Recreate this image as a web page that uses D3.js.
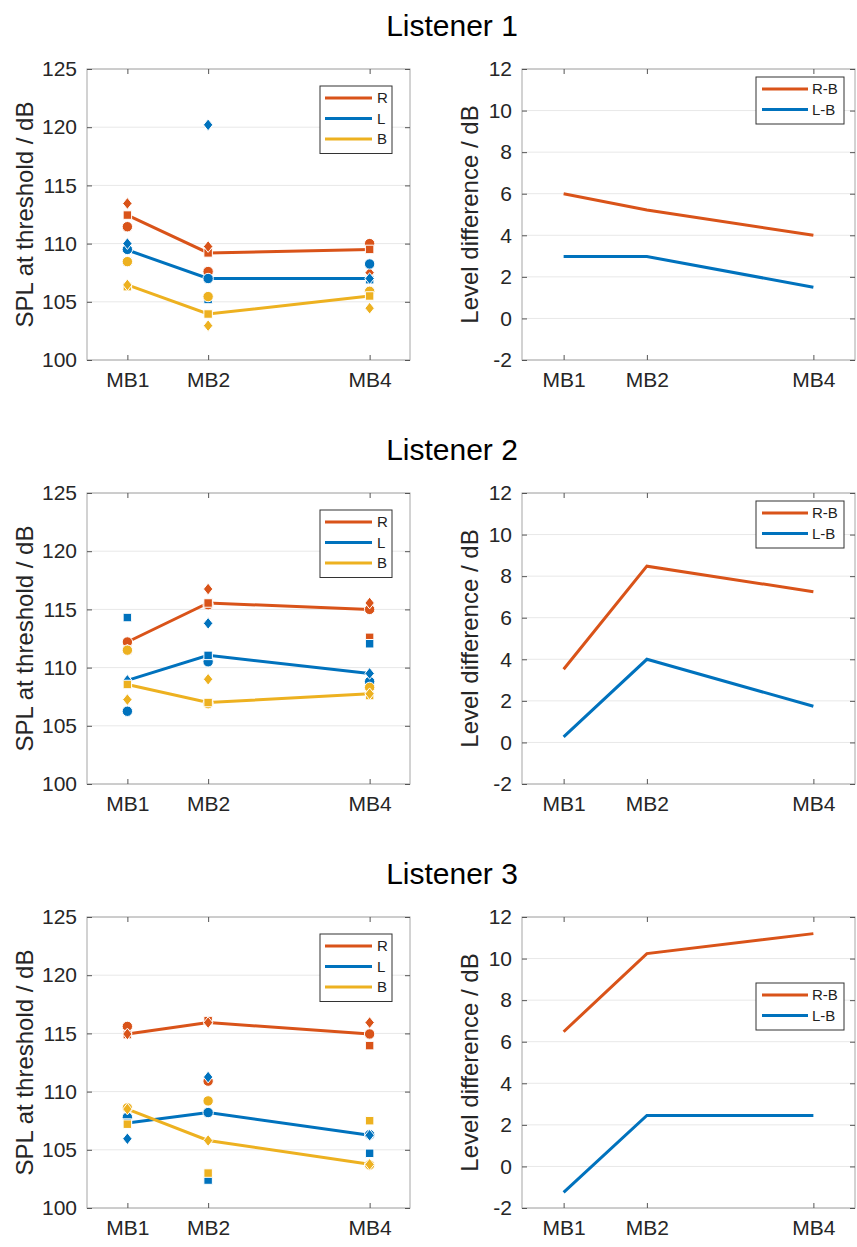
<!DOCTYPE html>
<html>
<head>
<meta charset="utf-8">
<script src="https://cdn.jsdelivr.net/npm/d3@7"></script>
<style>
  body { margin: 0; background: #fff; }
  text { font-family: "Liberation Sans", Arial, sans-serif; }
</style>
</head>
<body>
<div id="chart"></div>
<script>
// ---- data ----
const bands = ["MB1", "MB2", "MB4"];
const bandPos = [1, 2, 4];
const listeners = ["Listener 1", "Listener 2", "Listener 3"];

// medians drawn as lines (left panels), one row per listener
const rLine = [[112.45, 109.2, 109.5], [112.2, 115.55, 115.0], [114.95, 115.93, 114.95]];
const lLine = [[109.45, 107.0, 107.0], [108.9, 111.05, 109.5], [107.3, 108.2, 106.25]];
const bLine = [[106.45, 103.95, 105.5], [108.55, 107.0, 107.75], [108.5, 105.8, 103.75]];

// single runs (markers)
const rCircle  = [[111.45, 107.6, 110.0], [112.2, 115.4, 115.0], [115.6, 110.9, 114.95]];
const rSquare  = [[112.45, 109.2, 109.5], [111.5, 115.55, 112.6], [114.9, 116.1, 113.95]];
const rDiamond = [[113.45, 109.75, 107.5], [111.5, 116.75, 115.55], [114.95, 115.93, 115.93]];
const lCircle  = [[109.5, 107.0, 108.25], [106.25, 110.5, 108.8], [107.8, 108.2, 106.3]];
const lSquare  = [[108.45, 105.2, 106.9], [114.3, 111.05, 112.05], [107.3, 102.4, 104.7]];
const lDiamond = [[110.0, 120.2, 107.0], [108.9, 113.8, 109.5], [105.95, 111.25, 106.25]];
const bCircle  = [[108.45, 105.45, 105.9], [111.5, 106.9, 108.3], [108.6, 109.2, 103.7]];
const bSquare  = [[106.3, 103.95, 105.5], [108.55, 107.0, 107.6], [107.2, 103.0, 107.5]];
const bDiamond = [[106.45, 102.95, 104.45], [107.25, 109.0, 107.75], [108.5, 105.8, 103.75]];

// level differences (right panels)
const rbDiff = [[6.0, 5.22, 4.0], [3.52, 8.48, 7.25], [6.48, 10.24, 11.2]];
const lbDiff = [[2.98, 2.98, 1.5], [0.27, 4.0, 1.74], [-1.25, 2.45, 2.45]];

const splTicks = [100, 105, 110, 115, 120, 125];
const diffTicks = [-2, 0, 2, 4, 6, 8, 10, 12];

// ---- layout ----
const W = 857, H = 1247;
const rowTop = [69, 493, 917];
const plotH = 291;
const leftX = [87, 410];
const rightX = [522, 855];
const col = { R: "#D95319", L: "#0072BD", B: "#EDB120" };

const svg = d3.select("#chart").append("svg").attr("width", W).attr("height", H);

const x = d3.scaleLinear().domain([0.5, 4.5]);

// matlab style diamond
const diamond = {
  draw(ctx, size) {
    const h = Math.sqrt(size) * 0.68, w = h * 0.8;
    ctx.moveTo(0, -h); ctx.lineTo(w, 0); ctx.lineTo(0, h); ctx.lineTo(-w, 0); ctx.closePath();
  }
};
const shapes = { circle: d3.symbolCircle, square: d3.symbolSquare, diamond: diamond };
const shapeSize = { circle: 85, square: 72, diamond: 74 };

function drawAxes(g, xs, y, ticks, w) {
  // grid
  g.append("g").selectAll("line").data(ticks).join("line")
    .attr("x1", 0).attr("x2", w)
    .attr("y1", d => y(d)).attr("y2", d => y(d))
    .attr("stroke", "#e8e8e8").attr("stroke-width", 1);

  // box
  g.append("rect").attr("x", 0).attr("y", 0).attr("width", w).attr("height", plotH)
    .attr("fill", "none").attr("stroke", "#a6a6a6").attr("stroke-width", 1);

  const tick = 5;
  const yl = g.append("g").call(d3.axisLeft(y).tickValues(ticks).tickSize(-tick).tickSizeOuter(0)
    .tickPadding(10).tickFormat(d => String(d)));
  const yr = g.append("g").attr("transform", `translate(${w},0)`)
    .call(d3.axisRight(y).tickValues(ticks).tickSize(-tick).tickSizeOuter(0).tickFormat(""));
  const xb = g.append("g").attr("transform", `translate(0,${plotH})`)
    .call(d3.axisBottom(xs).tickValues(bandPos).tickSize(-tick).tickSizeOuter(0).tickPadding(12)
      .tickFormat((d, i) => bands[i]));
  const xt = g.append("g")
    .call(d3.axisTop(xs).tickValues(bandPos).tickSize(-tick).tickSizeOuter(0).tickFormat(""));
  [yl, yr, xb, xt].forEach(a => {
    a.select(".domain").remove();
    a.selectAll(".tick line").attr("stroke", "#555");
  });
  yl.selectAll("text").attr("font-size", 21).attr("fill", "#262626")
    .attr("font-family", "Liberation Sans, Arial, sans-serif");
  xb.selectAll("text").attr("font-size", 21).attr("fill", "#262626")
    .attr("font-family", "Liberation Sans, Arial, sans-serif");
}

function drawLegend(g, items, bx, by, bw, lineX0, lineX1, textX, rowH) {
  const bh = items.length * rowH + 6;
  g.append("rect").attr("x", bx).attr("y", by).attr("width", bw).attr("height", bh)
    .attr("fill", "#fff").attr("stroke", "#333").attr("stroke-width", 1);
  items.forEach((it, i) => {
    const cy = by + 12 + i * rowH;
    g.append("line").attr("x1", lineX0).attr("x2", lineX1).attr("y1", cy).attr("y2", cy)
      .attr("stroke", it.c).attr("stroke-width", 3);
    g.append("text").attr("x", textX).attr("y", cy).attr("dy", "0.36em")
      .attr("font-size", 15).attr("fill", "#222").text(it.t);
  });
}

listeners.forEach((name, k) => {
  const top = rowTop[k];

  svg.append("text").attr("x", 452).attr("y", top - 33)
    .attr("text-anchor", "middle").attr("font-size", 30).attr("fill", "#000").text(name);

  // ---- left panel ----
  const wL = leftX[1] - leftX[0];
  const gl = svg.append("g").attr("transform", `translate(${leftX[0]},${top})`);
  const xl = x.copy().range([0, wL]);
  const yl = d3.scaleLinear().domain([100, 125]).range([plotH, 0]);
  drawAxes(gl, xl, yl, splTicks, wL);

  const line = d3.line().x((d, i) => xl(bandPos[i])).y(d => yl(d));
  const series = [
    { key: "R", med: rLine[k], circle: rCircle[k], square: rSquare[k], diamond: rDiamond[k] },
    { key: "L", med: lLine[k], circle: lCircle[k], square: lSquare[k], diamond: lDiamond[k] },
    { key: "B", med: bLine[k], circle: bCircle[k], square: bSquare[k], diamond: bDiamond[k] }
  ];
  series.forEach(s => {
    gl.append("path").datum(s.med).attr("d", line)
      .attr("fill", "none").attr("stroke", col[s.key]).attr("stroke-width", 3);
  });
  series.forEach(s => {
    ["circle", "square", "diamond"].forEach(sh => {
      gl.append("g").selectAll("path").data(s[sh]).join("path")
        .attr("transform", (d, i) => `translate(${xl(bandPos[i])},${yl(d)})`)
        .attr("d", d3.symbol(shapes[sh], shapeSize[sh]))
        .attr("fill", col[s.key]).attr("stroke", "#fff").attr("stroke-width", 1);
    });
  });
  drawLegend(gl, [{ t: "R", c: col.R }, { t: "L", c: col.L }, { t: "B", c: col.B }],
    wL - 90, 17, 72, wL - 85, wL - 38, wL - 33, 20.5);

  svg.append("text")
    .attr("transform", `translate(24,${top + plotH / 2}) rotate(-90)`)
    .attr("text-anchor", "middle").attr("dominant-baseline", "central")
    .attr("font-size", 24).attr("fill", "#262626").text("SPL at threshold / dB");

  // ---- right panel ----
  const wR = rightX[1] - rightX[0];
  const gr = svg.append("g").attr("transform", `translate(${rightX[0]},${top})`);
  const xr = x.copy().range([0, wR]);
  const yr = d3.scaleLinear().domain([-2, 12]).range([plotH, 0]);
  drawAxes(gr, xr, yr, diffTicks, wR);

  const lineR = d3.line().x((d, i) => xr(bandPos[i])).y(d => yr(d));
  gr.append("path").datum(rbDiff[k]).attr("d", lineR)
    .attr("fill", "none").attr("stroke", col.R).attr("stroke-width", 3);
  gr.append("path").datum(lbDiff[k]).attr("d", lineR)
    .attr("fill", "none").attr("stroke", col.L).attr("stroke-width", 3);

  const legTop = k === 2 ? 66 : 8;
  drawLegend(gr, [{ t: "R-B", c: col.R }, { t: "L-B", c: col.L }],
    wR - 99, legTop, 88, wR - 93, wR - 47, wR - 43, 20.5);

  svg.append("text")
    .attr("transform", `translate(469,${top + plotH / 2}) rotate(-90)`)
    .attr("text-anchor", "middle").attr("dominant-baseline", "central")
    .attr("font-size", 24).attr("fill", "#262626").text("Level difference / dB");
});
</script>
</body>
</html>
